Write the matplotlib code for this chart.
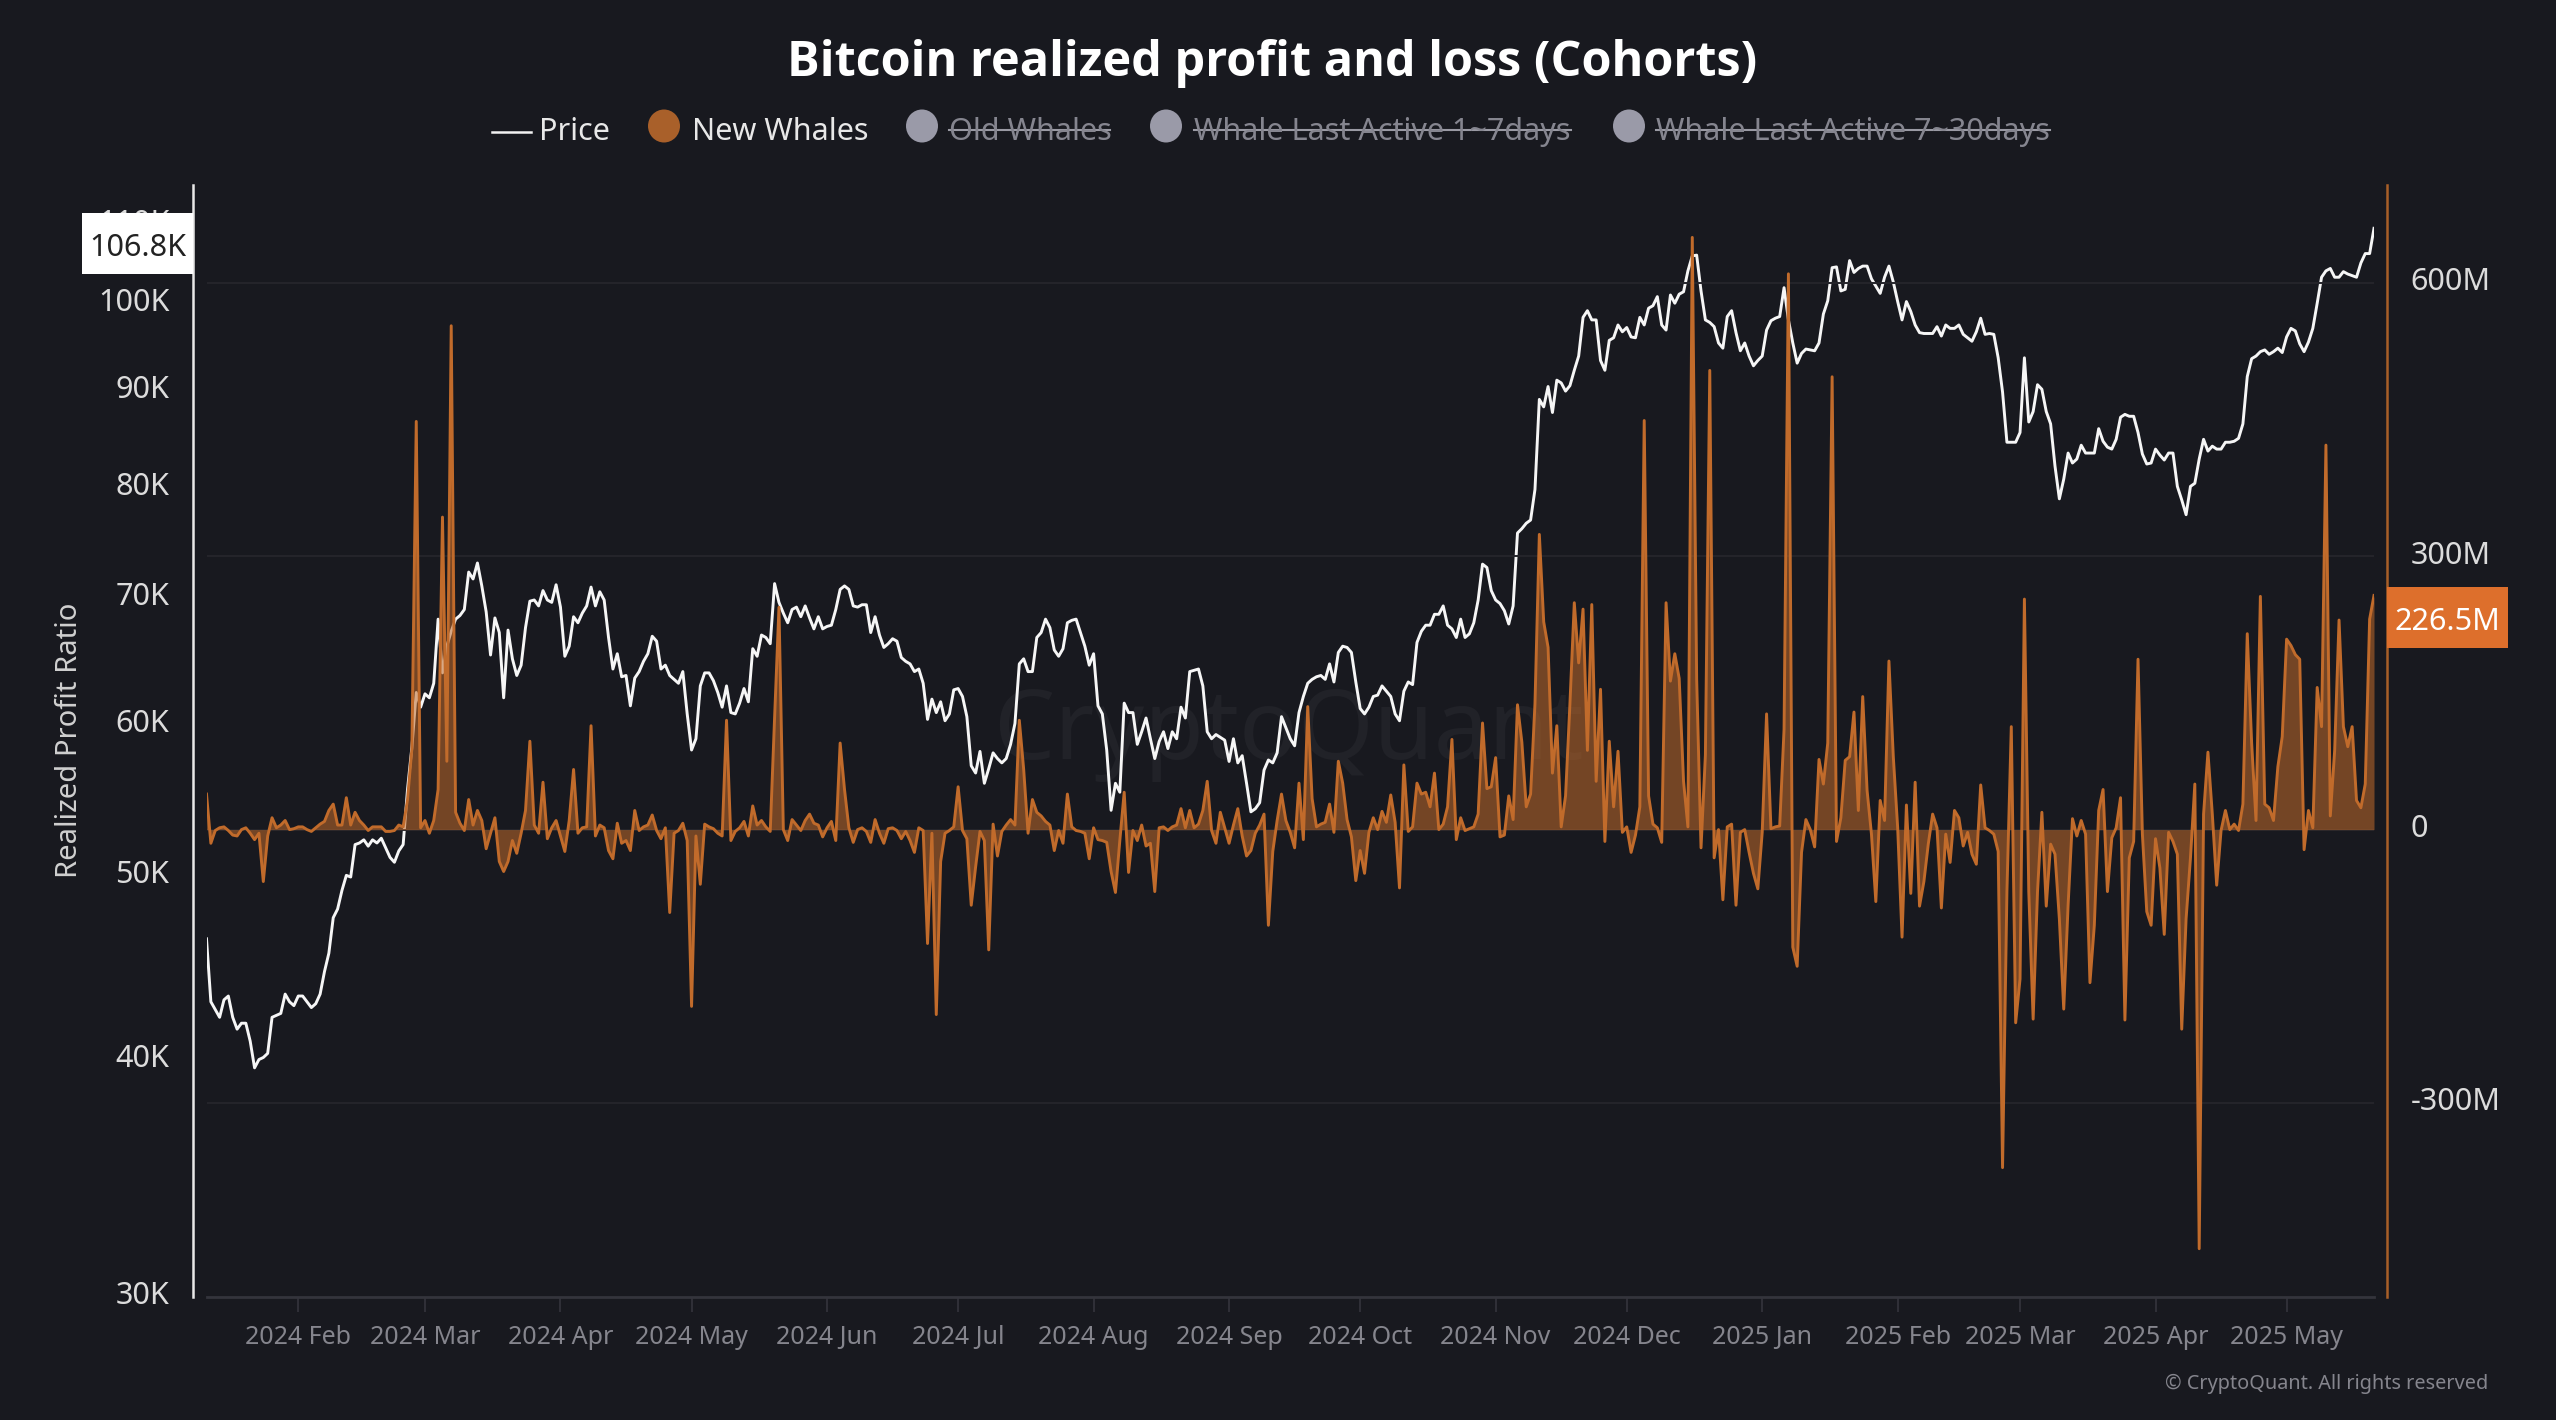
import pandas as pd
import matplotlib
matplotlib.use('Agg')
import matplotlib.pyplot as plt
from matplotlib.lines import Line2D
from matplotlib.patches import Ellipse, Rectangle
from matplotlib.ticker import NullLocator
from matplotlib.transforms import Affine2D


# Data, one value per day
# ********************************************
start_date = '2024-01-11'

# BTC price in thousands of USD
price_jan_mar24 = [46.3, 42.9, 42.5, 42.1, 43.0, 43.2, 42.1, 41.5, 41.8, 41.8, 40.9, 39.6, 40.0, 40.1, 40.3, 42.1,
                   42.2, 42.3, 43.3, 42.9, 42.7, 43.2, 43.2, 42.9, 42.6, 42.8, 43.3, 44.5, 45.5, 47.5, 48.0, 49.1,
                   50.0, 49.9, 51.9, 52.0, 52.2, 51.8, 52.2, 52.0, 52.3, 51.7, 51.1, 50.8, 51.5, 51.9, 55.5, 58.4,
                   62.4, 61.3, 62.3, 62.0, 63.1, 68.2, 63.9, 66.0, 67.2, 68.2, 68.5, 69.0, 72.2, 71.6, 73.0, 71.0]
price_mar_may24 = [68.8, 65.3, 68.3, 67.1, 62.0, 67.3, 65.0, 63.7, 64.5, 67.5, 69.7, 69.8, 69.3, 70.6, 69.8, 69.6,
                   71.1, 69.2, 65.2, 66.0, 68.4, 67.9, 68.7, 69.3, 70.9, 69.3, 70.5, 69.8, 66.7, 64.2, 65.4, 63.6,
                   63.7, 61.4, 63.5, 64.0, 64.8, 65.4, 66.8, 66.4, 64.2, 64.5, 63.7, 63.4, 63.1, 64.0, 60.8, 58.2,
                   59.0, 62.9, 63.9, 63.9, 63.3, 62.4, 61.3, 62.9, 60.9, 60.8, 61.6, 62.7, 61.7]
price_may_jul24 = [65.8, 65.2, 66.9, 66.7, 66.2, 71.2, 69.6, 68.7, 67.9, 69.0, 69.2, 68.4, 69.3, 68.3, 67.4, 68.4,
                   67.4, 67.6, 67.7, 69.0, 70.7, 71.0, 70.7, 69.3, 69.2, 69.4, 69.4, 67.1, 68.4, 66.9, 65.9, 66.2,
                   66.6, 66.4, 65.1, 64.8, 64.6, 64.0, 64.2, 63.1, 60.4, 61.9, 60.9, 61.7, 60.3, 60.8, 62.6, 62.7,
                   62.1, 60.6, 57.1, 56.6, 58.1, 55.9, 56.9, 58.0, 57.6, 57.3, 57.6, 58.6, 60.1, 64.6]
price_jul_sep24 = [65.0, 64.0, 64.0, 66.7, 67.1, 68.2, 67.5, 65.7, 65.2, 65.8, 67.9, 68.1, 68.2, 67.1, 66.0, 64.5,
                   65.4, 61.4, 60.8, 58.2, 54.1, 55.9, 55.3, 61.6, 60.9, 60.9, 58.6, 59.5, 60.5, 59.0, 57.6, 58.8,
                   59.5, 58.3, 59.5, 59.0, 61.3, 60.5, 64.0, 64.1, 64.2, 62.9, 59.5, 59.0, 59.3, 59.1, 58.9, 57.4,
                   59.0, 57.3, 57.8, 55.9, 54.0, 54.2, 54.6, 56.8, 57.5, 57.3, 58.0, 60.6, 59.8, 59.0]
price_sep_nov24 = [58.5, 60.9, 62.1, 63.1, 63.4, 63.6, 63.7, 63.4, 64.6, 63.2, 65.5, 66.0, 65.9, 65.5, 63.2, 61.2,
                   60.8, 61.3, 62.1, 62.2, 62.9, 62.5, 62.1, 60.8, 60.3, 62.5, 63.2, 63.0, 66.3, 67.2, 67.7, 67.7,
                   68.6, 68.6, 69.3, 67.7, 67.4, 66.7, 68.2, 66.7, 67.0, 67.9, 69.8, 72.9, 72.6, 70.6, 69.8, 69.5,
                   68.9, 67.8, 69.3, 75.7, 76.1, 76.6, 76.9, 79.8, 89.0, 88.2, 90.4, 87.6, 91.1, 90.8]
price_nov24_jan25 = [89.9, 90.5, 92.2, 93.8, 98.3, 99.1, 98.0, 98.0, 93.3, 92.2, 95.6, 95.9, 97.4, 96.6, 97.1, 96.0,
                     95.9, 98.3, 97.4, 99.4, 99.7, 100.8, 97.4, 96.8, 101.0, 100.0, 101.1, 101.4, 104.0, 105.9,
                     106.0, 101.5, 98.0, 97.7, 97.2, 95.3, 94.7, 98.4, 99.1, 96.5, 94.4, 95.3, 93.8, 92.7, 93.3,
                     93.8, 96.8, 97.9, 98.2, 98.4, 101.9, 98.0, 95.3, 93.0, 94.1, 94.6, 94.5, 94.4, 95.3, 98.7,
                     100.3, 104.4]
price_jan_mar25 = [104.5, 101.5, 101.7, 105.3, 103.8, 104.3, 104.6, 104.6, 103.0, 102.1, 101.2, 103.2, 104.6, 102.6,
                   100.2, 98.0, 100.2, 99.0, 97.4, 96.5, 96.4, 96.4, 96.4, 97.2, 96.1, 97.4, 97.0, 97.0, 97.4, 96.3,
                   95.9, 95.5, 96.6, 98.2, 96.3, 96.4, 96.3, 93.6, 89.8, 84.5, 84.5, 84.5, 85.5, 93.6, 86.6, 87.7,
                   90.6, 90.1, 87.7, 86.4, 82.1, 78.9, 80.8, 83.4, 82.4, 82.8, 84.2, 83.4, 83.4, 83.4, 85.9]
price_mar_may25 = [84.6, 84.0, 83.8, 84.8, 87.1, 87.4, 87.2, 87.2, 85.5, 83.3, 82.3, 82.4, 83.8, 83.2, 82.7, 83.4,
                   83.4, 80.1, 78.8, 77.4, 80.1, 80.4, 82.8, 84.8, 83.6, 84.1, 83.8, 83.8, 84.5, 84.5, 84.6, 84.9,
                   86.4, 91.5, 93.5, 93.8, 94.3, 94.5, 94.0, 94.3, 94.7, 94.2, 96.0, 97.0, 96.7, 95.2, 94.3, 95.4,
                   97.0, 100.0, 103.2, 104.0, 104.3, 103.2, 103.2, 103.9, 103.6, 103.4, 103.2, 105.0, 106.2, 106.2,
                   109.5]

# New Whales realized profit and loss in millions of USD
pnl_jan_mar24 = [39, -15, -1, 2, 3, -1, -6, -7, 0, 2, -4, -11, -4, -57, -7, 13, 2, 5, 10, 0, 1, 3, 3, 0, -2, 2, 6, 9,
                 21, 28, 5, 5, 35, 5, 19, 10, 5, -1, 3, 3, 3, -2, -2, -1, 5, 3, 33, 89, 448, 2, 10, -4, 10, 44, 343,
                 75, 553, 19, 7, -1, 33, 5, 21, 10]
pnl_mar_may24 = [-21, -4, 13, -35, -46, -35, -12, -26, -4, 21, 97, 5, -4, 52, -10, 2, 10, -7, -24, 10, 66, -4, 2, 3,
                 114, -7, 5, 2, -23, -32, 7, -15, -12, -23, 21, -1, 3, 5, 16, -1, -10, 2, -91, -4, -1, 7, -12, -194,
                 -7, -60, 6, 3, 1, -4, -7, 120, -12, -2, 2, 9, -7]
pnl_may_jul24 = [26, 5, 10, 3, -2, 123, 244, 0, -12, 11, 5, -1, 10, 17, 7, 5, -8, 2, 9, -12, 95, 44, 2, -14, 0, 2, -2,
                 -14, 11, -4, -15, 1, 2, -1, -10, -2, -12, -25, 2, -1, -125, -4, -203, -35, -4, -1, 3, 47, -1, -10,
                 -83, -41, -2, -12, -132, 6, -29, -2, 5, 11, 5, 120]
pnl_jul_sep24 = [66, -4, 33, 19, 15, 9, 5, -23, -1, -15, 39, 3, -1, -2, -4, -32, 2, -11, -12, -14, -46, -69, -12, 41,
                 -47, -1, -12, 5, -18, -15, -68, 2, 3, -1, 3, 5, 23, 2, 21, 2, 6, 21, 53, -1, -15, 19, 2, -15, 5, 23,
                 -7, -29, -23, -4, 5, 17, -105, -24, 10, 39, 10, -3]
pnl_sep_nov24 = [-20, 51, -11, 135, 34, 3, 6, 8, 28, -3, 75, 51, 11, -8, -56, -23, -48, -3, 13, 0, 20, 8, 38, 8, -64,
                 71, -2, 3, 51, 39, 41, 25, 62, 0, 6, 25, 99, -11, 13, -1, 1, 3, 17, 117, 45, 47, 79, -8, -6, 37, 11,
                 137, 96, 25, 39, 138, 324, 228, 200, 62, 114, 3]
pnl_nov24_jan25 = [37, 138, 249, 183, 242, 87, 247, 53, 154, -13, 97, 25, 86, -3, 3, -25, -6, 25, 449, 37, 6, 2, -14,
                   249, 163, 193, 166, 53, 3, 650, 165, -20, 82, 504, -31, 0, -77, 3, 6, -83, -3, 0, -25, -48, -65,
                   -3, 127, 1, 3, 4, 110, 610, -129, -150, -25, 11, 0, -19, 77, 50, 95, 497]
pnl_jan_mar25 = [-13, 13, 76, 80, 129, 21, 146, 43, -5, -79, 32, 10, 185, 80, 2, -118, 27, -70, 52, -84, -57, -16, 17,
                 2, -86, -5, -36, 21, 13, -18, -3, -27, -38, 49, 2, -1, -5, -24, -371, -68, 113, -212, -164, 253, -68,
                 -208, -68, 19, -84, -16, -27, -98, -197, -83, 12, -7, 10, -5, -168, -105, 21]
pnl_mar_may25 = [44, -68, -9, 2, 35, -209, -31, -13, 187, -5, -90, -105, -10, -42, -115, -3, -13, -27, -219, -98, -31,
                 50, -460, 17, 85, 17, -61, -1, 21, 0, 6, -1, 28, 215, 95, 10, 256, 28, 24, 10, 69, 102, 209, 202, 192,
                 187, -22, 21, 2, 156, 113, 422, 15, 87, 230, 113, 91, 113, 32, 24, 50, 231, 257]

price = (price_jan_mar24 + price_mar_may24 + price_may_jul24 + price_jul_sep24
         + price_sep_nov24 + price_nov24_jan25 + price_jan_mar25 + price_mar_may25)
pnl = (pnl_jan_mar24 + pnl_mar_may24 + pnl_may_jul24 + pnl_jul_sep24
       + pnl_sep_nov24 + pnl_nov24_jan25 + pnl_jan_mar25 + pnl_mar_may25)

month_ticks = ['2024-02-01', '2024-03-01', '2024-04-01', '2024-05-01', '2024-06-01', '2024-07-01', '2024-08-01',
               '2024-09-01', '2024-10-01', '2024-11-01', '2024-12-01', '2025-01-01', '2025-02-01', '2025-03-01',
               '2025-04-01', '2025-05-01']
month_labels = ['2024 Feb', '2024 Mar', '2024 Apr', '2024 May', '2024 Jun', '2024 Jul', '2024 Aug', '2024 Sep',
                '2024 Oct', '2024 Nov', '2024 Dec', '2025 Jan', '2025 Feb', '2025 Mar', '2025 Apr', '2025 May']
price_ticks = [30, 40, 50, 60, 70, 80, 90, 100, 110]
price_labels = ['30K', '40K', '50K', '60K', '70K', '80K', '90K', '100K', '110K']
pnl_ticks = [-300, 0, 300, 600]
pnl_labels = ['-300M', '0', '300M', '600M']

title = 'Bitcoin realized profit and loss (Cohorts)'
last_price = '106.8K'
last_pnl = '226.5M'


# Colours and helpers
# *******************
W, H = 2556, 1420
BG = '#18191f'
ORANGE = '#c16b2b'
GRAY = '#9a9aa8'

plt.rcParams['font.family'] = ['Noto Sans', 'DejaVu Sans']
dates = pd.date_range(start_date, periods=len(price))


def fx(px):
    return px / W


def fy(py):
    return 1 - py / H


fig = plt.figure(figsize=(W / 100, H / 100), dpi=100, facecolor=BG)


def add_text(px, py, s, **kwargs):
    return fig.text(fx(px), fy(py), s, **kwargs)


def add_line(x0, x1, py, color, lw):
    fig.add_artist(Line2D([fx(x0), fx(x1)], [fy(py), fy(py)], color=color, lw=lw, transform=fig.transFigure))


def add_dot(px, py, color):
    fig.add_artist(Ellipse((fx(px), fy(py)), 32 / W, 33 / H, facecolor=color, edgecolor='none',
                           transform=fig.transFigure))


# Plot the two series
# *******************
ax = fig.add_axes([fx(206.5), fy(1297), (2374 - 206.5) / W, (1297 - 185) / H])
ax.patch.set_visible(False)  # the watermark lies behind the axes
ax2 = ax.twinx()

ax.plot(dates, price, color='#f6f6f6', lw=2.1)
ax.set_yscale('log')
ax.set_ylim(30, 115.4)
ax.set_xlim(dates[0], dates[-1])
ax.set_yticks(price_ticks, price_labels)
ax.yaxis.set_minor_locator(NullLocator())
ax.set_xticks(pd.to_datetime(month_ticks), month_labels)
ax.xaxis.set_minor_locator(NullLocator())

ax2.fill_between(dates, pnl, 0, color=ORANGE, alpha=0.55, lw=0)
ax2.plot(dates, pnl, color=ORANGE, lw=2.1)
ax2.set_ylim(-513, 707.5)
ax2.set_yticks(pnl_ticks, pnl_labels)
ax2.grid(axis='y', color='#25252b', lw=1.4)
ax2.set_axisbelow(True)

for spine in ['top', 'right']:
    ax.spines[spine].set_visible(False)
for spine in ['top', 'left', 'bottom']:
    ax2.spines[spine].set_visible(False)
ax.spines['left'].set_position(('outward', 9.7))
ax.spines['left'].set_color('#e8e8e8')
ax.spines['left'].set_linewidth(1.8)
ax.spines['bottom'].set_color('#34343c')
ax.spines['bottom'].set_linewidth(2)
ax2.spines['right'].set_position(('outward', 9.4))
ax2.spines['right'].set_color('#a85f28')
ax2.spines['right'].set_linewidth(1.8)

ax.tick_params(axis='x', length=11, width=1.2, color='#34343c', labelcolor='#85858d', labelsize=18, pad=9)
ax.tick_params(axis='y', length=0, labelcolor='#dcdcdc', labelsize=22, pad=17)
ax2.tick_params(axis='y', length=0, labelcolor='#dcdcdc', labelsize=22, pad=17)

# The y labels sit a few pixels above their gridlines
for label in ax.get_yticklabels() + ax2.get_yticklabels():
    label.set_transform(label.get_transform() + Affine2D().translate(0, 4))

ax.set_ylabel('Realized Profit Ratio', color='#d0d0d0', fontsize=21)
ax.yaxis.set_label_coords(fx(84), fy(740), transform=fig.transFigure)


# Title, legend, tags and notes
# *****************************
add_text(1272, 76, title, color='white', fontsize=35, fontweight='bold', family=['Open Sans', 'DejaVu Sans'],
         ha='center', va='baseline')

add_line(492, 531, 132, '#f2f2f2', 1.8)
add_text(539, 140, 'Price', color='#e8e8e8', fontsize=22, va='baseline')
add_dot(664, 126, '#a9602a')
add_text(692, 140, 'New Whales', color='#e8e8e8', fontsize=22, va='baseline')

hidden = [(922, 949, 1110, 'Old Whales'), (1166, 1194, 1571, 'Whale Last Active 1~7days'),
          (1629, 1656, 2050, 'Whale Last Active 7~30days')]
for dot_x, text_x, end_x, name in hidden:
    add_dot(dot_x, 126, GRAY)
    add_text(text_x, 140, name, color='#85858f', fontsize=22, va='baseline')
    add_line(text_x, end_x, 130, '#9a9aa4', 1.5)

fig.add_artist(Rectangle((fx(82), fy(274)), 111 / W, 61 / H, facecolor='white', edgecolor='none',
                         transform=fig.transFigure, zorder=5))
add_text(138, 248, last_price, color='#222222', fontsize=22, ha='center', va='center', zorder=6)
fig.add_artist(Rectangle((fx(2387), fy(648)), 121 / W, 61 / H, facecolor='#dd6f2c', edgecolor='none',
                         transform=fig.transFigure, zorder=5))
add_text(2447, 622, last_pnl, color='white', fontsize=22, ha='center', va='center', zorder=6)

add_text(1288, 733, 'CryptoQuant', color='#212228', fontsize=70, ha='center', va='center', zorder=-1)
add_text(2488, 1389, '© CryptoQuant. All rights reserved', color='#85858d', fontsize=14.3, ha='right', va='baseline')

fig.savefig('out.png', dpi=100, facecolor=BG)
